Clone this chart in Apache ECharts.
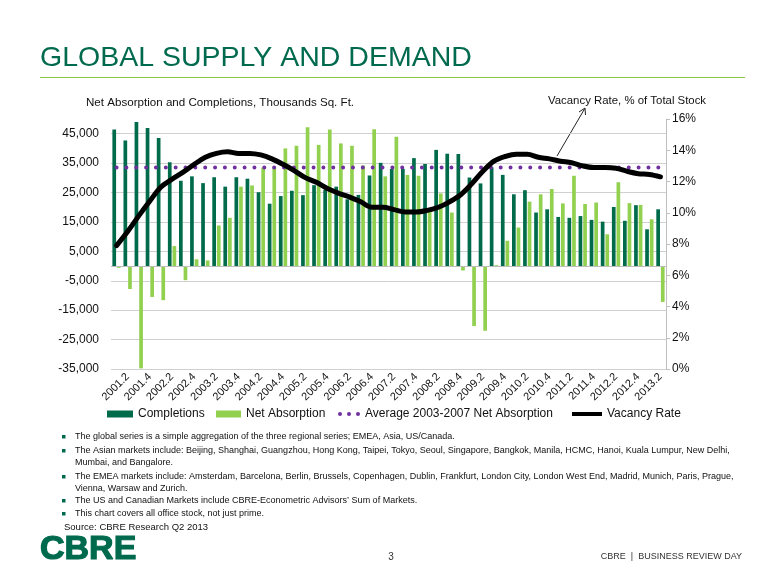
<!DOCTYPE html>
<html><head><meta charset="utf-8">
<script src="https://cdn.jsdelivr.net/npm/echarts@6/dist/echarts.min.js"></script>
<style>html,body{margin:0;padding:0;background:#fff}#c{width:780px;height:585px}</style>
</head><body><div id="c"></div>
<script>
const categories = ['2001.1','2001.2','2001.3','2001.4','2002.1','2002.2','2002.3','2002.4','2003.1','2003.2','2003.3','2003.4','2004.1','2004.2','2004.3','2004.4','2005.1','2005.2','2005.3','2005.4','2006.1','2006.2','2006.3','2006.4','2007.1','2007.2','2007.3','2007.4','2008.1','2008.2','2008.3','2008.4','2009.1','2009.2','2009.3','2009.4','2010.1','2010.2','2010.3','2010.4','2011.1','2011.2','2011.3','2011.4','2012.1','2012.2','2012.3','2012.4','2013.1','2013.2'];
const completions = [46400,42700,49000,46900,43500,35300,29000,30500,28200,30200,27000,30200,29700,25100,21200,23800,25600,24100,27500,25900,27000,22700,24200,30800,35100,33000,33100,36700,34700,39500,38200,38100,30100,28100,33600,31000,24400,25800,18200,19300,16700,16400,17000,15700,15100,20100,15400,20700,12500,19300];
const netAbsorption = [-600,-7800,-34800,-10500,-11600,6800,-4800,2300,1900,13800,16400,27000,27400,33500,33700,40000,40900,47200,41200,46400,41700,40900,34200,46500,30500,44000,31000,30700,19100,24700,18200,-1500,-20400,-22000,300,8600,13100,21900,24400,26200,21300,30700,21100,21600,10800,28500,21400,20800,15900,-12200];
const vacancyRate = [7.9,8.8,9.8,10.75,11.65,12.15,12.6,13.1,13.55,13.8,13.9,13.8,13.8,13.7,13.45,13.1,12.7,12.25,11.95,11.55,11.25,11.0,10.7,10.35,10.35,10.2,10.05,10.05,10.15,10.35,10.7,11.15,11.85,12.65,13.3,13.6,13.75,13.75,13.55,13.45,13.3,13.2,13.0,12.9,12.9,12.85,12.65,12.5,12.45,12.3];
const avgNetAbsorption20032007 = 33500;
const leftAxisRange = {min: -35000, max: 50000, step: 10000};
const rightAxisRange = {min: 0, max: 16, step: 2};

const FONT = "'Liberation Sans', Arial, sans-serif";
const GREEN = '#006A4E';
const avgLine = categories.map(() => avgNetAbsorption20032007);

const notes = [
  ['The global series is a simple aggregation of the three regional series; EMEA, Asia, US/Canada.'],
  ['The Asian markets include: Beijing, Shanghai, Guangzhou, Hong Kong, Taipei, Tokyo, Seoul, Singapore, Bangkok, Manila, HCMC, Hanoi, Kuala Lumpur, New Delhi,', 'Mumbai, and Bangalore.'],
  ['The EMEA markets include: Amsterdam, Barcelona, Berlin, Brussels, Copenhagen, Dublin, Frankfurt, London City, London West End, Madrid, Munich, Paris, Prague,', 'Vienna, Warsaw and Zurich.'],
  ['The US and Canadian Markets include CBRE-Econometric Advisors\u2019 Sum of Markets.'],
  ['This chart covers all office stock, not just prime.']
];
const noteY = [[437],[451,463],[477,489],[501],[514]];

const graphic = [
  {type:'text', left:40, top:44, style:{text:'GLOBAL SUPPLY AND DEMAND', font:'28.5px '+FONT, fill:GREEN}},
  {type:'rect', shape:{x:40,y:77,width:705,height:1}, style:{fill:'#8DC63F'}},
  {type:'text', x:86, y:103, style:{text:'Net Absorption and Completions, Thousands Sq. Ft.', font:'11.6px '+FONT, fill:'#111', verticalAlign:'middle'}},
  {type:'text', x:548, y:101, style:{text:'Vacancy Rate, % of Total Stock', font:'11.4px '+FONT, fill:'#111', verticalAlign:'middle'}},
  {type:'line', shape:{x1:557,y1:156,x2:584.5,y2:109}, style:{stroke:'#222', lineWidth:1}},
  {type:'polyline', shape:{points:[[579,112],[585,108],[585.5,115]]}, style:{stroke:'#222', lineWidth:1, fill:null}},
  {type:'text', x:64, y:527, style:{text:'Source: CBRE Research Q2 2013', font:'9.5px '+FONT, fill:'#111', verticalAlign:'middle'}},
  {type:'text', x:40, y:550, style:{text:'CBRE', font:'bold 34px '+FONT, fill:GREEN, stroke:GREEN, lineWidth:1.2, verticalAlign:'middle'}},
  {type:'text', x:391, y:557, style:{text:'3', font:'10px '+FONT, fill:'#333', align:'center', verticalAlign:'middle'}},
  {type:'text', x:742, y:557, style:{text:'CBRE  |  BUSINESS REVIEW DAY', font:'9px '+FONT, fill:'#333', align:'right', verticalAlign:'middle'}}
];
notes.forEach((lines, i) => {
  graphic.push({type:'rect', shape:{x:62, y:noteY[i][0]-2, width:3.5, height:3.5}, style:{fill:GREEN}});
  lines.forEach((t, j) => {
    graphic.push({type:'text', x:75, y:noteY[i][j], style:{text:t, font:'9px '+FONT, fill:'#111', verticalAlign:'middle'}});
  });
});

const legendText = {fontSize:12, color:'#111', fontFamily:FONT};
const chart = echarts.init(document.getElementById('c'));
chart.setOption({
  animation:false,
  textStyle:{fontFamily:FONT},
  grid:{left:111, right:114, top:119, bottom:216, containLabel:false},
  legend:[
    {data:['Completions'], left:102, top:403, icon:'rect', itemWidth:26, itemHeight:7, textStyle:legendText, itemStyle:{borderWidth:0}},
    {data:['Net Absorption'], left:211, top:403, icon:'rect', itemWidth:25, itemHeight:7, textStyle:legendText, itemStyle:{borderWidth:0}},
    {data:['Average 2003-2007 Net Absorption'], left:333, top:403, icon:'path://M0,2a2,2 0 1,0 4,0a2,2 0 1,0 -4,0zM9,2a2,2 0 1,0 4,0a2,2 0 1,0 -4,0zM18,2a2,2 0 1,0 4,0a2,2 0 1,0 -4,0z', itemWidth:22, itemHeight:4, textStyle:legendText, itemStyle:{borderWidth:0, color:'#7030A0'}},
    {data:['Vacancy Rate'], left:567, top:403, icon:'rect', itemWidth:30, itemHeight:4, textStyle:legendText, itemStyle:{borderWidth:0, color:'#000'}}
  ],
  xAxis:{
    type:'category', data:categories,
    axisLine:{show:false}, axisTick:{show:false},
    axisLabel:{interval:(i)=> i % 2 === 1, rotate:45, fontSize:11, color:'#111', margin:6}
  },
  yAxis:[
    {type:'value', min:leftAxisRange.min, max:leftAxisRange.max, interval:leftAxisRange.step,
     axisLine:{show:false}, axisTick:{show:false},
     axisLabel:{fontSize:12, color:'#111', margin:12, showMaxLabel:false,
       formatter:(v)=> v === leftAxisRange.max ? '' : v.toLocaleString('en-US')},
     splitLine:{lineStyle:{color:'#d0d0d0', width:1}, showMaxLine:false}},
    {type:'value', min:rightAxisRange.min, max:rightAxisRange.max, interval:rightAxisRange.step, position:'right',
     axisLine:{show:true, lineStyle:{color:'#bfbfbf'}}, axisTick:{show:true, length:4, lineStyle:{color:'#bfbfbf'}},
     axisLabel:{fontSize:12, color:'#111', margin:6, formatter:'{value}%'},
     splitLine:{show:false}}
  ],
  series:[
    {name:'Completions', type:'bar', data:completions, barWidth:3.7, barGap:'25%', itemStyle:{color:'#006B4B'},
     markLine:{silent:true, symbol:'none', label:{show:false}, lineStyle:{color:'#bdbdbd', type:'solid', width:1}, data:[{yAxis:0}]}},
    {name:'Net Absorption', type:'bar', data:netAbsorption, barWidth:3.7, itemStyle:{color:'#92D050'}},
    {name:'Average 2003-2007 Net Absorption', type:'line', data:avgLine, symbol:'none', z:3,
     lineStyle:{color:'#7030A0', width:4, type:[0, 9.85], cap:'round'}},
    {name:'Vacancy Rate', type:'line', yAxisIndex:1, data:vacancyRate, symbol:'none', smooth:0.35, z:4,
     lineStyle:{color:'#000', width:5, cap:'round', join:'round'}}
  ],
  graphic:graphic
});
</script></body></html>
